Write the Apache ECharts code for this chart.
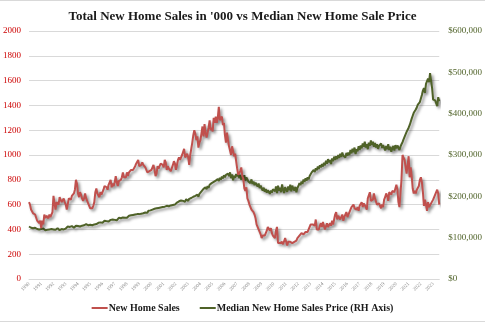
<!DOCTYPE html>
<html>
<head>
<meta charset="utf-8">
<script src="https://cdn.jsdelivr.net/npm/echarts@6/dist/echarts.min.js"></script>
<style>
  html, body { margin: 0; padding: 0; background: #fff; }
  #chart { width: 485px; height: 322px; }
</style>
</head>
<body>
<div id="chart"></div>
<script>
// Monthly series, January 1990 through July 2023
const firstYear = 1990;
const lastYear = 2023;
const lastMonth = 7;

// New home sales, seasonally adjusted annual rate, thousands
const homeSales = [
  620, 600, 560, 545, 530, 540, 520, 505, 470, 480, 450, 470,
  410, 470, 440, 520, 490, 510, 500, 490, 520, 500, 510, 540,
  670, 610, 560, 620, 620, 600, 660, 640, 620, 620, 650, 620,
  600, 560, 570, 650, 660, 640, 670, 680, 690, 720, 800, 770,
  690, 660, 700, 680, 650, 630, 650, 690, 650, 640, 610, 600,
  570, 560, 570, 590, 620, 700, 730, 690, 680, 660, 700, 680,
  700, 720, 750, 740, 740, 720, 760, 770, 800, 740, 770, 750,
  780, 830, 780, 750, 790, 790, 800, 820, 860, 820, 810, 820,
  860, 830, 860, 860, 880, 870, 880, 890, 910, 930, 920, 960,
  910, 900, 920, 940, 920, 930, 900, 890, 860, 870, 870, 880,
  880, 900, 920, 880, 830, 850, 910, 890, 910, 930, 930, 920,
  900, 960, 940, 880, 910, 890, 900, 870, 880, 920, 950, 930,
  880, 920, 960, 980, 960, 950, 1000, 1000, 1050, 980, 980, 1010,
  980, 920, 1000, 1050, 1100, 1160, 1200, 1170, 1120, 1150, 1060, 1100,
  1120, 1130, 1230, 1150, 1250, 1180, 1140, 1180, 1220, 1280, 1200, 1220,
  1190, 1300, 1260, 1310, 1260, 1300, 1389, 1280, 1280, 1310, 1240, 1260,
  1160, 1100, 1180, 1120, 1070, 1060, 1000, 1070, 1030, 990, 1010, 1000,
  890, 840, 850, 870, 900, 830, 810, 730, 710, 740, 650, 630,
  600, 580, 560, 560, 540, 520, 490, 440, 440, 400, 380, 360,
  330, 350, 340, 350, 370, 390, 420, 430, 390, 410, 370, 350,
  340, 330, 390, 420, 290, 300, 290, 280, 300, 280, 290, 330,
  300, 270, 300, 310, 300, 300, 290, 290, 300, 310, 310, 330,
  340, 350, 340, 370, 370, 360, 370, 380, 380, 380, 400, 390,
  440, 430, 440, 450, 430, 480, 400, 410, 400, 430, 450, 420,
  460, 430, 400, 400, 450, 420, 420, 450, 430, 470, 440, 480,
  520, 540, 480, 510, 520, 480, 490, 520, 470, 500, 490, 540,
  500, 520, 530, 560, 580, 570, 600, 570, 580, 560, 580, 550,
  590, 590, 620, 580, 610, 620, 580, 560, 650, 650, 700, 630,
  630, 640, 690, 650, 640, 600, 600, 610, 590, 570, 600, 580,
  640, 660, 690, 670, 630, 700, 710, 680, 710, 720, 700, 730,
  760, 720, 620, 580, 690, 800, 1000, 990, 960, 960, 850, 860,
  990, 820, 900, 830, 730, 690, 710, 690, 720, 710, 750, 800,
  820, 780, 700, 590, 640, 600, 550, 620, 580, 570, 610, 620,
  640, 650, 680, 690, 720, 690, 600
];

// Median new home sale price, thousands of dollars
const medianPrice = [
  127, 125, 124, 126, 123, 122, 124, 125, 121, 123, 120, 124,
  121, 119, 122, 120, 118, 121, 119, 122, 120, 118, 121, 123,
  120, 122, 119, 121, 123, 120, 118, 122, 121, 124, 120, 123,
  122, 124, 127, 124, 126, 125, 128, 126, 124, 127, 129, 127,
  128, 130, 127, 131, 129, 132, 130, 128, 133, 131, 130, 134,
  131, 133, 130, 134, 132, 135, 133, 131, 136, 134, 137, 135,
  136, 138, 141, 138, 140, 142, 139, 141, 143, 140, 144, 142,
  143, 145, 142, 146, 148, 145, 147, 144, 149, 146, 148, 150,
  148, 151, 153, 150, 154, 152, 155, 153, 156, 152, 157, 155,
  157, 160, 158, 162, 159, 163, 161, 164, 160, 165, 162, 166,
  164, 168, 166, 170, 167, 171, 168, 172, 169, 173, 170, 174,
  171, 175, 173, 177, 174, 176, 172, 178, 175, 179, 176, 180,
  182, 185, 181, 188, 184, 190, 186, 189, 192, 187, 193, 190,
  189, 194, 191, 196, 193, 199, 195, 201, 197, 204, 199, 206,
  207, 212, 209, 218, 214, 222, 217, 225, 220, 228, 224, 232,
  228, 235, 231, 238, 234, 242, 237, 245, 240, 248, 243, 251,
  246, 252, 248, 255, 249, 258, 244, 253, 239, 250, 245, 254,
  248, 256, 244, 252, 240, 249, 242, 251, 238, 246, 241, 236,
  239, 232, 241, 230, 236, 227, 233, 229, 224, 231, 220, 226,
  219, 214, 221, 211, 218, 209, 215, 212, 206, 214, 209, 217,
  219, 212, 224, 208, 226, 214, 221, 210, 229, 216, 208, 222,
  218, 211, 224, 215, 228, 212, 226, 219, 214, 223, 210, 220,
  225, 232, 227, 236, 230, 241, 235, 244, 238, 246, 241, 249,
  252, 258, 255, 264, 259, 268, 263, 272, 266, 275, 270, 278,
  272, 281, 275, 286, 279, 290, 282, 288, 278, 292, 285, 296,
  288, 297, 290, 300, 293, 303, 295, 306, 298, 301, 294, 305,
  298, 306, 300, 312, 304, 315, 307, 318, 302, 314, 309, 321,
  312, 323, 316, 328, 320, 332, 318, 326, 314, 330, 322, 335,
  324, 332, 320, 329, 318, 326, 315, 322, 319, 328, 317, 324,
  318, 311, 322, 314, 326, 312, 320, 308, 316, 322, 311, 324,
  316, 323, 318, 312, 320, 326, 331, 338, 342, 350, 356, 360,
  366, 372, 380, 388, 395, 402, 398, 410, 415, 422, 418, 428,
  432, 445, 456, 462, 450, 472, 468, 485, 476, 498, 480, 462,
  434, 438, 432, 425, 418, 440, 430
];

// Month categories ("1990-01" ...), one per data point
const months = [];
for (let y = firstYear; y <= lastYear; y++) {
  const end = y === lastYear ? lastMonth : 12;
  for (let m = 1; m <= end; m++) {
    months.push(y + '-' + String(m).padStart(2, '0'));
  }
}

const salesColor = '#C0504D';
const priceColor = '#4F6228';
const serif = '"Liberation Serif", "DejaVu Serif", serif';
const lineShadow = {
  shadowColor: 'rgba(0,0,0,0.45)',
  shadowBlur: 3,
  shadowOffsetX: 2,
  shadowOffsetY: 2
};

const chart = echarts.init(document.getElementById('chart'));
chart.setOption({
  animation: false,
  backgroundColor: '#fff',
  title: {
    text: "Total New Home Sales in '000 vs Median New Home Sale Price",
    left: 'center',
    top: 5,
    textStyle: { fontFamily: serif, fontWeight: 'bold', fontSize: 13, color: '#1a1a1a' }
  },
  legend: {
    bottom: 4,
    left: 'center',
    itemWidth: 16,
    itemHeight: 2,
    itemGap: 20,
    itemStyle: { shadowBlur: 0, shadowOffsetX: 0, shadowOffsetY: 0, borderWidth: 0 },
    textStyle: { fontFamily: serif, fontWeight: 'bold', fontSize: 10, color: '#1a1a1a', padding: [0, 0, 0, -4] },
    data: [
      { name: 'New Home Sales', icon: 'rect' },
      { name: 'Median New Home Sales Price (RH Axis)', icon: 'rect' }
    ]
  },
  grid: { left: 24, right: 40, top: 31, bottom: 43 },
  xAxis: {
    type: 'category',
    data: months,
    boundaryGap: false,
    axisLine: { lineStyle: { color: '#d9d9d9', width: 1 } },
    axisTick: { show: false },
    axisLabel: {
      interval: (i) => i % 12 === 0,
      formatter: (v) => v.slice(0, 4),
      rotate: 45,
      fontSize: 5,
      margin: 4,
      color: '#888',
      fontFamily: serif
    },
    splitLine: { show: false }
  },
  yAxis: [
    {
      type: 'value',
      min: 0,
      max: 2000,
      interval: 200,
      axisLine: { show: false },
      axisTick: { show: false },
      axisLabel: { color: '#CC0000', fontSize: 9, fontFamily: serif, margin: 8, formatter: (v) => String(v) },
      splitLine: { lineStyle: { color: '#d9d9d9', width: 1 } }
    },
    {
      type: 'value',
      min: 0,
      max: 600,
      interval: 100,
      axisLine: { show: false },
      axisTick: { show: false },
      axisLabel: {
        color: priceColor,
        fontSize: 9,
        fontFamily: serif,
        margin: 9,
        formatter: (v) => '$' + (v * 1000).toLocaleString('en-US')
      },
      splitLine: { show: false }
    }
  ],
  series: [
    {
      name: 'New Home Sales',
      type: 'line',
      data: homeSales,
      yAxisIndex: 0,
      symbol: 'none',
      color: salesColor,
      lineStyle: Object.assign({ color: salesColor, width: 2 }, lineShadow),
      z: 3
    },
    {
      name: 'Median New Home Sales Price (RH Axis)',
      type: 'line',
      data: medianPrice,
      yAxisIndex: 1,
      symbol: 'none',
      color: priceColor,
      lineStyle: Object.assign({ color: priceColor, width: 2 }, lineShadow),
      z: 2
    }
  ],
  graphic: [
    { type: 'rect', shape: { x: 0, y: 0, width: 485, height: 1 }, style: { fill: '#d9d9d9' } },
    { type: 'rect', shape: { x: 0, y: 321, width: 485, height: 1 }, style: { fill: '#d9d9d9' } }
  ]
});
</script>
</body>
</html>
